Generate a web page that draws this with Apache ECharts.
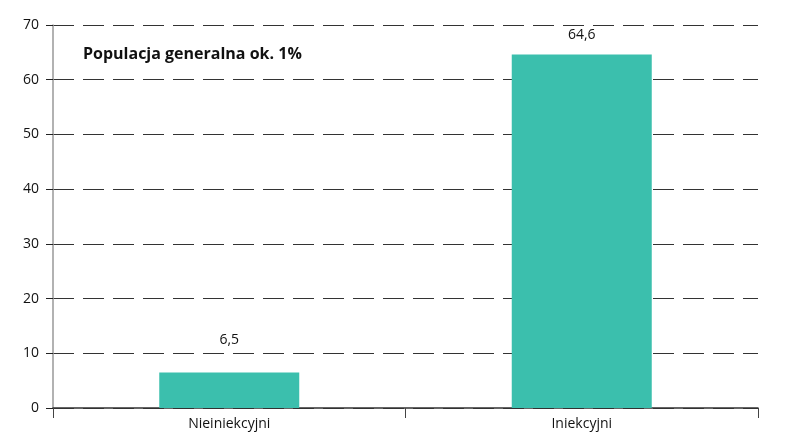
<!DOCTYPE html>
<html>
<head>
<meta charset="utf-8">
<style>
  html, body { margin: 0; padding: 0; background: #fff; }
  #main { width: 793px; height: 436px; }
</style>
<script src="https://cdn.jsdelivr.net/npm/echarts@6/dist/echarts.min.js"></script>
</head>
<body>
<div id="main"></div>
<script>
// dane z wykresu
var categories = ['Nieiniekcyjni', 'Iniekcyjni'];
var values = [6.5, 64.6];
var valueLabels = ['6,5', '64,6'];
var yTicks = [0, 10, 20, 30, 40, 50, 60, 70];

// odstęp etykiet od słupka (tak jak na oryginale)
var labelGap = [25, 13];

var myChart = echarts.init(document.getElementById('main'));

var barData = values.map(function (v, i) {
    return { value: v, label: { distance: labelGap[i] } };
});

var option = {
    animation: false,
    textStyle: { fontFamily: 'Open Sans' },
    title: {
        text: 'Populacja generalna ok. 1%',
        left: 78,
        top: 41,
        textStyle: { fontSize: 16, fontWeight: 'bold', color: '#111', fontFamily: 'Open Sans' }
    },
    grid: { left: 53, right: 35, top: 25, bottom: 28 },
    xAxis: {
        type: 'category',
        data: categories,
        axisLine: { lineStyle: { color: '#333', width: 1.5 } },
        axisTick: { show: true, length: 10, lineStyle: { color: '#444' } },
        axisLabel: { color: '#111', fontSize: 14, margin: 9 }
    },
    yAxis: {
        type: 'value',
        min: yTicks[0],
        max: yTicks[yTicks.length - 1],
        interval: 10,
        axisLine: { show: true, lineStyle: { color: '#999', width: 1.5 } },
        axisTick: { show: true, length: 7, lineStyle: { color: '#222' } },
        axisLabel: { color: '#111', fontSize: 14, margin: 14 },
        splitLine: {
            lineStyle: { color: '#333', type: [21, 9], width: 1.2 }
        }
    },
    series: [{
        type: 'bar',
        data: barData,
        barWidth: 140,
        itemStyle: { color: '#3bbfad' },
        label: {
            show: true,
            position: 'top',
            color: '#111',
            fontSize: 14,
            formatter: function (p) { return valueLabels[p.dataIndex]; }
        }
    }]
};

myChart.setOption(option);
</script>
</body>
</html>
